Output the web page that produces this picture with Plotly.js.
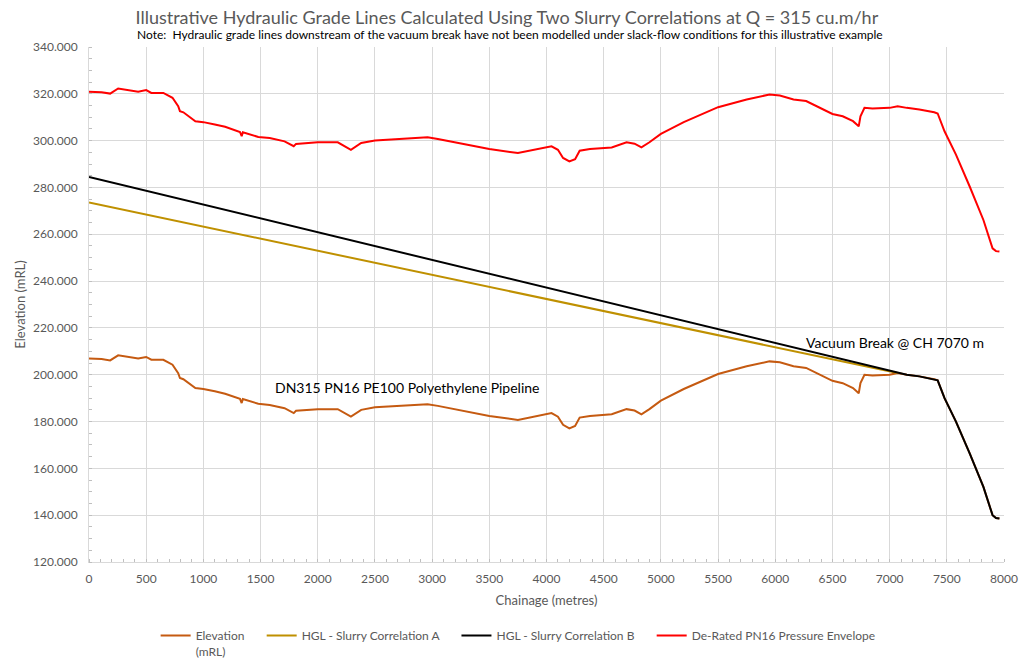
<!DOCTYPE html>
<html>
<head>
<meta charset="utf-8">
<script src="https://cdn.plot.ly/plotly-3.0.1.min.js"></script>
<style>html,body{margin:0;padding:0;background:#fff;}#chart{width:1024px;height:665px;}</style>
</head>
<body>
<div id="chart"></div>
<script>
// Chainage (m) for the ground profile and pressure envelope
const chainage = [0,110,185,255,430,500,545,650,730,780,795,825,930,1000,1100,1190,1320,1335,1345,1480,1580,1710,1790,1810,2000,2175,2290,2380,2500,2730,2960,3050,3250,3500,3750,3860,3942,4044,4100,4145,4200,4250,4290,4380,4570,4700,4770,4830,4900,5000,5200,5500,5750,5950,6040,6160,6270,6390,6500,6590,6680,6730,6745,6780,6850,7000,7070,7150,7260,7390,7420,7480,7580,7700,7820,7900,7930,7960];

// Elevation (mRL)
const elevation = [206.9,206.7,206.1,208.3,206.9,207.6,206.4,206.4,204.3,200.7,198.6,198.1,194.3,193.9,192.9,191.9,189.7,187.9,189.6,187.6,187.1,185.7,183.6,184.6,185.3,185.3,182.1,185.0,186.1,186.7,187.4,186.7,184.7,182.4,180.7,181.9,182.6,183.6,182.1,178.6,177.1,178.1,181.7,182.4,183.1,185.3,184.7,183.1,185.3,188.9,193.9,200.3,203.6,205.7,205.3,203.6,202.9,200.0,197.4,196.4,194.3,192.1,196.4,200.0,199.7,200.0,200.7,200.0,199.3,198.1,197.6,190.0,180.0,166.4,152.1,140.0,138.8,138.6];

// De-Rated PN16 Pressure Envelope (mRL)
const envelope = [320.9,320.7,320.1,322.3,320.9,321.6,320.4,320.4,318.3,314.7,312.6,312.1,308.3,307.9,306.9,305.9,303.7,301.9,303.6,301.6,301.1,299.7,297.6,298.6,299.3,299.3,296.1,299.0,300.1,300.7,301.4,300.7,298.7,296.4,294.7,295.9,296.6,297.6,296.1,292.6,291.1,292.1,295.7,296.4,297.1,299.3,298.7,297.1,299.3,302.9,307.9,314.3,317.6,319.7,319.3,317.6,316.9,314.0,311.4,310.4,308.3,306.1,310.4,314.0,313.7,314.0,314.7,314.0,313.3,312.1,311.6,304.0,294.0,280.4,266.1,254.0,252.8,252.6];

// HGL - Slurry Correlation A
const hglAChainage = [0,7070];
const hglA = [273.6,200.7];

// HGL - Slurry Correlation B (follows ground downstream of the vacuum break)
const hglBChainage = [0,7070,7150,7260,7390,7420,7480,7580,7700,7820,7900,7930,7960];
const hglB = [284.5,200.7,200.0,199.3,198.1,197.6,190.0,180.0,166.4,152.1,140.0,138.8,138.6];

const xTicks = [0,500,1000,1500,2000,2500,3000,3500,4000,4500,5000,5500,6000,6500,7000,7500,8000];
const yTicks = [120,140,160,180,200,220,240,260,280,300,320,340];

const FONT = 'Lato, "Open Sans", sans-serif';
const GREY = '#595959';
const PAD = '\u00a0\u00a0\u00a0\u00a0';

const traces = [
  {x: chainage, y: elevation, type: 'scatter', mode: 'lines', name: 'Elevation' + PAD + '<br>(mRL)',
   line: {color: '#c55a11', width: 2}},
  {x: hglAChainage, y: hglA, type: 'scatter', mode: 'lines', name: 'HGL - Slurry Correlation A' + PAD,
   line: {color: '#bf9000', width: 2}},
  {x: hglBChainage, y: hglB, type: 'scatter', mode: 'lines', name: 'HGL - Slurry Correlation B' + PAD,
   line: {color: '#000000', width: 2}},
  {x: chainage, y: envelope, type: 'scatter', mode: 'lines', name: 'De-Rated PN16 Pressure Envelope',
   line: {color: '#ff0000', width: 2}}
];

const layout = {
  width: 1024, height: 665,
  paper_bgcolor: '#fff', plot_bgcolor: '#fff',
  margin: {l: 89, r: 20, t: 47, b: 103, autoexpand: false},
  font: {family: FONT, color: GREY, size: 12},
  title: {text: 'Illustrative Hydraulic Grade Lines Calculated Using Two Slurry Correlations at Q = 315 cu.m/hr',
          font: {family: FONT, size: 18, color: GREY}, x: 0.495, xanchor: 'center', y: 0.973, yanchor: 'middle', xref: 'container', yref: 'container'},
  xaxis: {
    range: [0, 8000], tickvals: xTicks, ticktext: xTicks.map(String),
    showgrid: true, gridcolor: '#d9d9d9', gridwidth: 1, zeroline: false,
    showline: true, linecolor: '#d9d9d9', ticks: '', automargin: false, ticklabelstandoff: 6,
    minor: {dtick: 100, ticks: 'inside', ticklen: 3, tickcolor: '#bfbfbf', showgrid: false},
    tickfont: {family: FONT, size: 12, color: GREY},
    title: {text: 'Chainage (metres)', font: {family: FONT, size: 13, color: GREY}, standoff: 10}
  },
  yaxis: {
    range: [120, 340], tickvals: yTicks, tickformat: '.3f',
    showgrid: true, gridcolor: '#d9d9d9', gridwidth: 1, zeroline: false,
    showline: true, linecolor: '#d9d9d9', ticks: '', automargin: false, ticklabelstandoff: 8,
    minor: {dtick: 5, ticks: 'inside', ticklen: 3, tickcolor: '#bfbfbf', showgrid: false},
    tickfont: {family: FONT, size: 12, color: GREY},
    title: {text: 'Elevation (mRL)', font: {family: FONT, size: 13, color: GREY}, standoff: 4}
  },
  showlegend: true,
  legend: {orientation: 'h', x: 0.469, xanchor: 'center', y: -0.115, yanchor: 'top',
           font: {family: FONT, size: 12, color: GREY}, itemwidth: 30, valign: 'top',
           traceorder: 'normal'},
  annotations: [
    {xref: 'paper', yref: 'paper', x: (510 - 89) / 915, y: 1.0, xanchor: 'center', yanchor: 'bottom', yshift: 3,
     text: 'Note:  Hydraulic grade lines downstream of the vacuum break have not been modelled under slack-flow conditions for this illustrative example',
     showarrow: false, font: {family: FONT, size: 12, color: '#000'}},
    {xref: 'x', yref: 'y', x: 1608, y: 194.5, xanchor: 'left', yanchor: 'middle',
     text: 'DN315 PN16 PE100 Polyethylene Pipeline', showarrow: false,
     font: {family: FONT, size: 14, color: '#000'}},
    {xref: 'x', yref: 'y', x: 6250, y: 213.7, xanchor: 'left', yanchor: 'middle',
     text: 'Vacuum Break @ CH 7070 m', showarrow: false,
     font: {family: FONT, size: 14, color: '#000'}}
  ]
};

Plotly.newPlot('chart', traces, layout, {displayModeBar: false, staticPlot: true});
</script>
</body>
</html>
